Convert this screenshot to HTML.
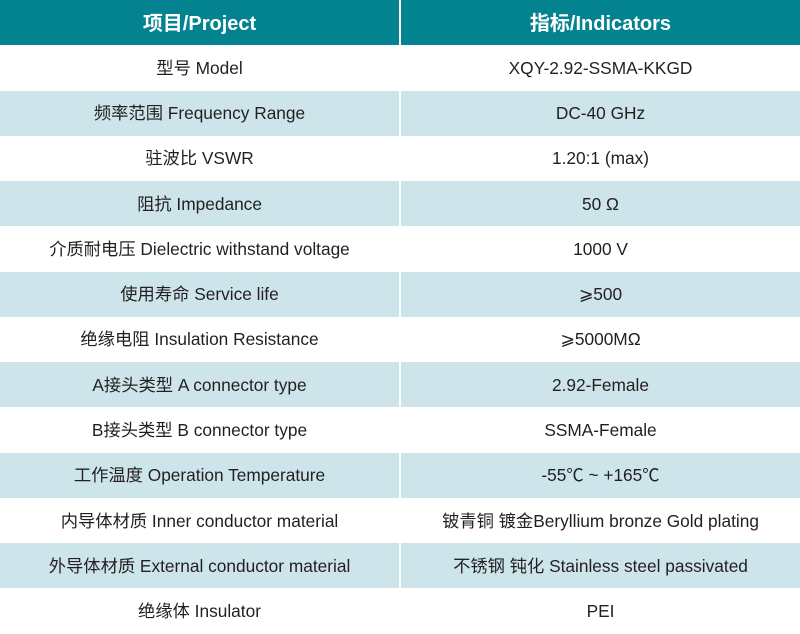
<!DOCTYPE html>
<html>
<head>
<meta charset="utf-8">
<style>
html,body{margin:0;padding:0;background:#fff;}
body{width:800px;height:634px;overflow:hidden;}
table{border-collapse:collapse;width:800px;table-layout:fixed;}
td{height:45.28px;padding:0;text-align:center;vertical-align:middle;line-height:20px;
  font-family:"Liberation Sans","Noto Sans CJK SC",sans-serif;font-size:17.3px;color:#231f20;white-space:nowrap;}
td.l{width:399px;border-right:2px solid #fff;}
tr.h td{background:#03838f;color:#fff;font-weight:bold;font-size:20px;padding-top:2px;height:43.28px;}
tr.b td{background:#cde5ea;}
</style>
</head>
<body>
<table>
<tr class="h"><td class="l">项目/Project</td><td>指标/Indicators</td></tr>
<tr><td class="l">型号 Model</td><td>XQY-2.92-SSMA-KKGD</td></tr>
<tr class="b"><td class="l">频率范围 Frequency Range</td><td>DC-40 GHz</td></tr>
<tr><td class="l">驻波比 VSWR</td><td>1.20:1 (max)</td></tr>
<tr class="b"><td class="l">阻抗 Impedance</td><td>50 Ω</td></tr>
<tr><td class="l">介质耐电压 Dielectric withstand voltage</td><td>1000 V</td></tr>
<tr class="b"><td class="l">使用寿命 Service life</td><td>⩾500</td></tr>
<tr><td class="l">绝缘电阻 Insulation Resistance</td><td>⩾5000MΩ</td></tr>
<tr class="b"><td class="l">A接头类型 A connector type</td><td>2.92-Female</td></tr>
<tr><td class="l">B接头类型 B connector type</td><td>SSMA-Female</td></tr>
<tr class="b"><td class="l">工作温度 Operation Temperature</td><td>-55℃ ~ +165℃</td></tr>
<tr><td class="l">内导体材质 Inner conductor material</td><td>铍青铜 镀金Beryllium bronze Gold plating</td></tr>
<tr class="b"><td class="l">外导体材质 External conductor material</td><td>不锈钢 钝化 Stainless steel passivated</td></tr>
<tr><td class="l">绝缘体 Insulator</td><td>PEI</td></tr>
</table>
</body>
</html>
